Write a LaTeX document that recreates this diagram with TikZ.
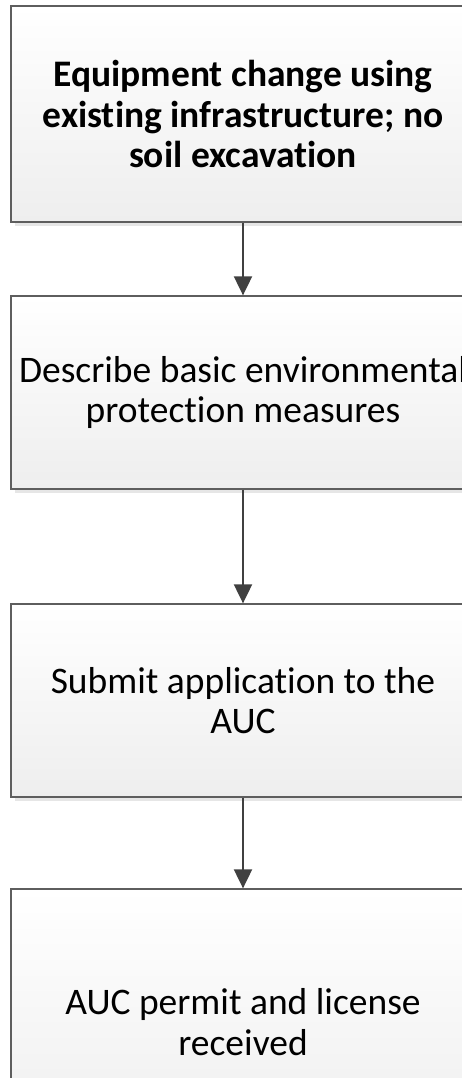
\documentclass[tikz,border=0pt]{standalone}
\usepackage{fontspec}
\setmainfont{Carlito}[Ligatures={NoCommon},RawFeature={-liga;-clig;-dlig}]
\usetikzlibrary{shadows,arrows.meta}
\definecolor{boxline}{HTML}{5E5E5E}
\definecolor{boxbot}{HTML}{EEEEEE}
\definecolor{shad}{HTML}{E6E6E6}
\definecolor{arr}{HTML}{404040}
\begin{document}
\begin{tikzpicture}[x=1pt,y=-1pt,
  flowbox/.style={draw=boxline, line width=1.3pt, rectangle, minimum width=464pt,
    top color=white, bottom color=boxbot, align=center, inner sep=0pt,
    font=\fontsize{37.5}{40.5}\selectfont,
    drop shadow={shadow xshift=4pt, shadow yshift=-4pt, fill=shad, opacity=1}},
  flowarrow/.style={draw=arr, line width=2pt, -{Triangle[length=19pt,width=18pt]}}]
\useasboundingbox (0,0) rectangle (462,1078);
\node[flowbox, minimum height=216pt] (b1) at (243,114) {\bfseries Equipment change using\\\bfseries existing infrastructure; no\\\bfseries soil excavation};
\node[flowbox, minimum height=193pt] (b2) at (243,392.5) {Describe basic environmental\\protection measures};
\node[flowbox, minimum height=193pt] (b3) at (243,700.5) {Submit application to the\\AUC};
\node[flowbox, minimum height=266pt] (b4) at (243,1022) {AUC permit and license\\received};
\draw[flowarrow] (b1.south) -- (b2.north);
\draw[flowarrow] (b2.south) -- (b3.north);
\draw[flowarrow] (b3.south) -- (b4.north);
\end{tikzpicture}
\end{document}
